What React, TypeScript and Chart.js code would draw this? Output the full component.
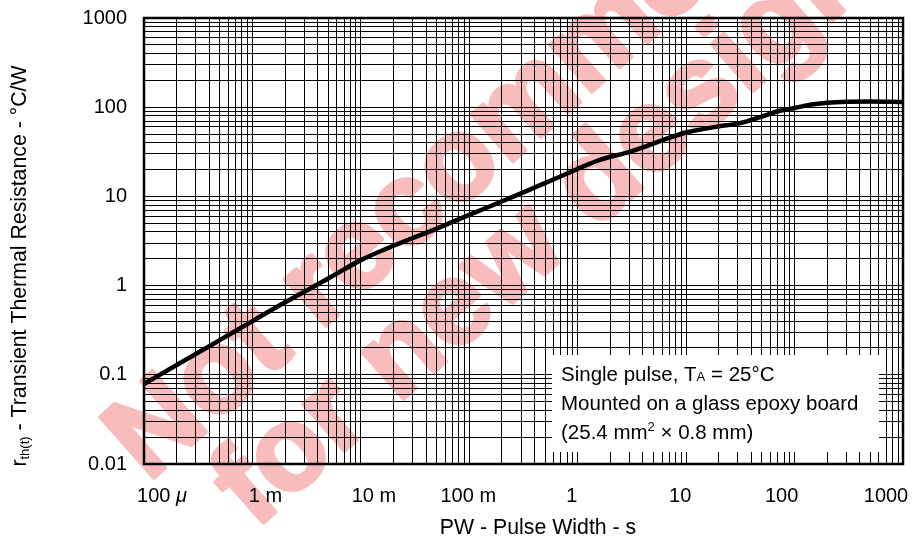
import { useEffect, useRef } from "react";
import { Chart, registerables } from "chart.js";

Chart.register(...registerables);

// Transient thermal resistance vs. pulse width (single pulse)
const pulseWidth = [1e-4, 2e-4, 5e-4, 1e-3, 2e-3, 5e-3, 1e-2, 2e-2, 5e-2, 0.1, 0.3, 0.7, 1.6, 3, 10, 20, 30, 50, 70, 100, 150, 300, 500, 1000];
const thermalResistance = [0.079, 0.129, 0.245, 0.4, 0.65, 1.2, 1.93, 2.8, 4.36, 6.2, 10.8, 16.8, 25.6, 31.6, 52, 61, 65.5, 78.5, 90, 98, 108, 115, 116, 114];

const xDecades = [1e-4, 1e-3, 1e-2, 1e-1, 1, 10, 100, 1000];
const xTickLabels = ["100 μ", "1 m", "10 m", "100 m", "1", "10", "100", "1000"];
const xLabelNudge = [18, 13, 13, -1, -6, -6, -13, -17];
const yDecades = [0.01, 0.1, 1, 10, 100, 1000];
const yTickLabels = ["0.01", "0.1", "1", "10", "100", "1000"];

const xTitle = "PW - Pulse Width - s";
const yTitleParts = ["r", "th(t)", " - Transient Thermal Resistance - °C/W"];
const watermarkLines = ["Not recommended", "for new design"];

const FONT = '"Liberation Sans", Arial, Helvetica, sans-serif';

function logTicks(min: number, max: number) {
  const out: { value: number; major: boolean }[] = [];
  const e0 = Math.round(Math.log10(min));
  const e1 = Math.round(Math.log10(max));
  for (let e = e0; e < e1; e++) {
    for (let m = 1; m <= 9; m++) {
      out.push({ value: Number((m * Math.pow(10, e)).toPrecision(10)), major: m === 1 });
    }
  }
  out.push({ value: max, major: true });
  return out;
}

function matchDecade(list: number[], v: number) {
  return list.findIndex((d) => Math.abs(d - v) / d < 1e-6);
}

const watermarkPlugin = {
  id: "watermark",
  beforeDraw(chart: any) {
    const ctx = chart.ctx;
    const angle = (-41.4 * Math.PI) / 180;
    const origins = [
      [148, 483],
      [255, 530],
    ];
    ctx.save();
    ctx.fillStyle = "rgb(249,188,188)";
    ctx.strokeStyle = "rgb(249,188,188)";
    ctx.lineWidth = 4;
    ctx.lineJoin = "round";
    ctx.font = `bold 118px ${FONT}`;
    ctx.textBaseline = "alphabetic";
    watermarkLines.forEach((line, i) => {
      ctx.save();
      ctx.translate(origins[i][0], origins[i][1]);
      ctx.rotate(angle);
      ctx.fillText(line, 0, 0);
      ctx.strokeText(line, 0, 0);
      ctx.restore();
    });
    ctx.restore();
  },
};

const noteBoxPlugin = {
  id: "noteBox",
  beforeDatasetsDraw(chart: any) {
    const ctx = chart.ctx;
    const F = `20.5px ${FONT}`;
    const S = `13px ${FONT}`;
    ctx.save();
    ctx.fillStyle = "#fff";
    ctx.fillRect(552, 355, 327, 97);
    ctx.fillStyle = "#000";
    ctx.textBaseline = "alphabetic";
    ctx.textAlign = "left";
    const x0 = 561;
    // line 1: Single pulse, TA = 25°C
    let x = x0;
    ctx.font = F;
    ctx.fillText("Single pulse, T", x, 381);
    x += ctx.measureText("Single pulse, T").width;
    ctx.font = S;
    ctx.fillText("A", x, 381);
    x += ctx.measureText("A").width;
    ctx.font = F;
    ctx.fillText(" = 25°C", x, 381);
    // line 2
    ctx.fillText("Mounted on a glass epoxy board", x0, 410);
    // line 3: (25.4 mm² × 0.8 mm)
    x = x0;
    ctx.fillText("(25.4 mm", x, 439);
    x += ctx.measureText("(25.4 mm").width;
    ctx.font = S;
    ctx.fillText("2", x, 431);
    x += ctx.measureText("2").width;
    ctx.font = F;
    ctx.fillText(" × 0.8 mm)", x, 439);
    ctx.restore();
  },
};

const framePlugin = {
  id: "frame",
  afterDraw(chart: any) {
    const ctx = chart.ctx;
    const a = chart.chartArea;
    const xs = chart.scales.x;
    ctx.save();
    ctx.strokeStyle = "#000";
    ctx.lineWidth = 2.5;
    ctx.strokeRect(a.left, a.top, a.right - a.left, a.bottom - a.top);

    // x tick labels
    ctx.fillStyle = "#000";
    ctx.textBaseline = "middle";
    ctx.textAlign = "left";
    xDecades.forEach((v, i) => {
      const label = xTickLabels[i];
      const cx = xs.getPixelForValue(v) + xLabelNudge[i];
      const parts = label.split("μ");
      ctx.font = `20px ${FONT}`;
      const w0 = ctx.measureText(parts[0]).width;
      let w1 = 0;
      if (parts.length > 1) {
        ctx.font = `italic 20px ${FONT}`;
        w1 = ctx.measureText("μ").width;
      }
      const left = cx - (w0 + w1) / 2;
      ctx.font = `20px ${FONT}`;
      ctx.fillText(parts[0], left, 496);
      if (parts.length > 1) {
        ctx.font = `italic 20px ${FONT}`;
        ctx.fillText("μ", left + w0, 496);
      }
    });

    // x title
    ctx.font = `21.3px ${FONT}`;
    ctx.textAlign = "center";
    ctx.fillText(xTitle, 538, 528);

    // y title (rotated, with subscript)
    ctx.translate(26, 266);
    ctx.rotate(-Math.PI / 2);
    ctx.textBaseline = "alphabetic";
    ctx.textAlign = "left";
    ctx.font = `21.3px ${FONT}`;
    const wr = ctx.measureText(yTitleParts[0]).width;
    ctx.font = `13px ${FONT}`;
    const ws = ctx.measureText(yTitleParts[1]).width;
    ctx.font = `21.3px ${FONT}`;
    const wt = ctx.measureText(yTitleParts[2]).width;
    let tx = -(wr + ws + wt) / 2;
    ctx.fillText(yTitleParts[0], tx, 0);
    tx += wr;
    ctx.font = `13px ${FONT}`;
    ctx.fillText(yTitleParts[1], tx, 3);
    tx += ws;
    ctx.font = `21.3px ${FONT}`;
    ctx.fillText(yTitleParts[2], tx, 0);
    ctx.restore();
  },
};

export default function App() {
  const canvasRef = useRef<HTMLCanvasElement | null>(null);

  useEffect(() => {
    document.body.style.margin = "0";
    const canvas = canvasRef.current;
    if (!canvas) return;
    const chart = new Chart(canvas, {
      type: "line",
      data: {
        datasets: [
          {
            data: pulseWidth.map((x, i) => ({ x, y: thermalResistance[i] })),
            borderColor: "#000",
            borderWidth: 4.5,
            pointRadius: 0,
            cubicInterpolationMode: "monotone",
            fill: false,
          },
        ],
      },
      options: {
        animation: false,
        responsive: true,
        maintainAspectRatio: false,
        layout: { padding: { top: 18, right: 11, left: 0, bottom: 0 } },
        plugins: { legend: { display: false }, tooltip: { enabled: false } },
        scales: {
          x: {
            type: "logarithmic",
            min: 1e-4,
            max: 1000,
            afterBuildTicks: (axis: any) => {
              axis.ticks = logTicks(1e-4, 1000);
            },
            afterFit: (axis: any) => {
              axis.height = 80;
              axis.paddingLeft = 0;
              axis.paddingRight = 0;
            },
            ticks: { display: false, autoSkip: false },
            grid: { color: "#000", lineWidth: 1, drawTicks: false },
            border: { display: false },
          },
          y: {
            type: "logarithmic",
            min: 0.01,
            max: 1000,
            afterBuildTicks: (axis: any) => {
              axis.ticks = logTicks(0.01, 1000);
            },
            afterFit: (axis: any) => {
              axis.width = 144;
              axis.paddingTop = 0;
              axis.paddingBottom = 0;
            },
            ticks: {
              autoSkip: false,
              padding: 17,
              color: "#000",
              font: { family: FONT, size: 20 },
              callback: (value: any) => {
                const i = matchDecade(yDecades, Number(value));
                return i >= 0 ? yTickLabels[i] : "";
              },
            },
            grid: { color: "#000", lineWidth: 1, drawTicks: false },
            border: { display: false },
          },
        },
      },
      plugins: [watermarkPlugin, noteBoxPlugin, framePlugin],
    } as any);
    return () => chart.destroy();
  }, []);

  return (
    <div style={{ position: "relative", width: 914, height: 544 }}>
      <canvas ref={canvasRef} />
    </div>
  );
}
